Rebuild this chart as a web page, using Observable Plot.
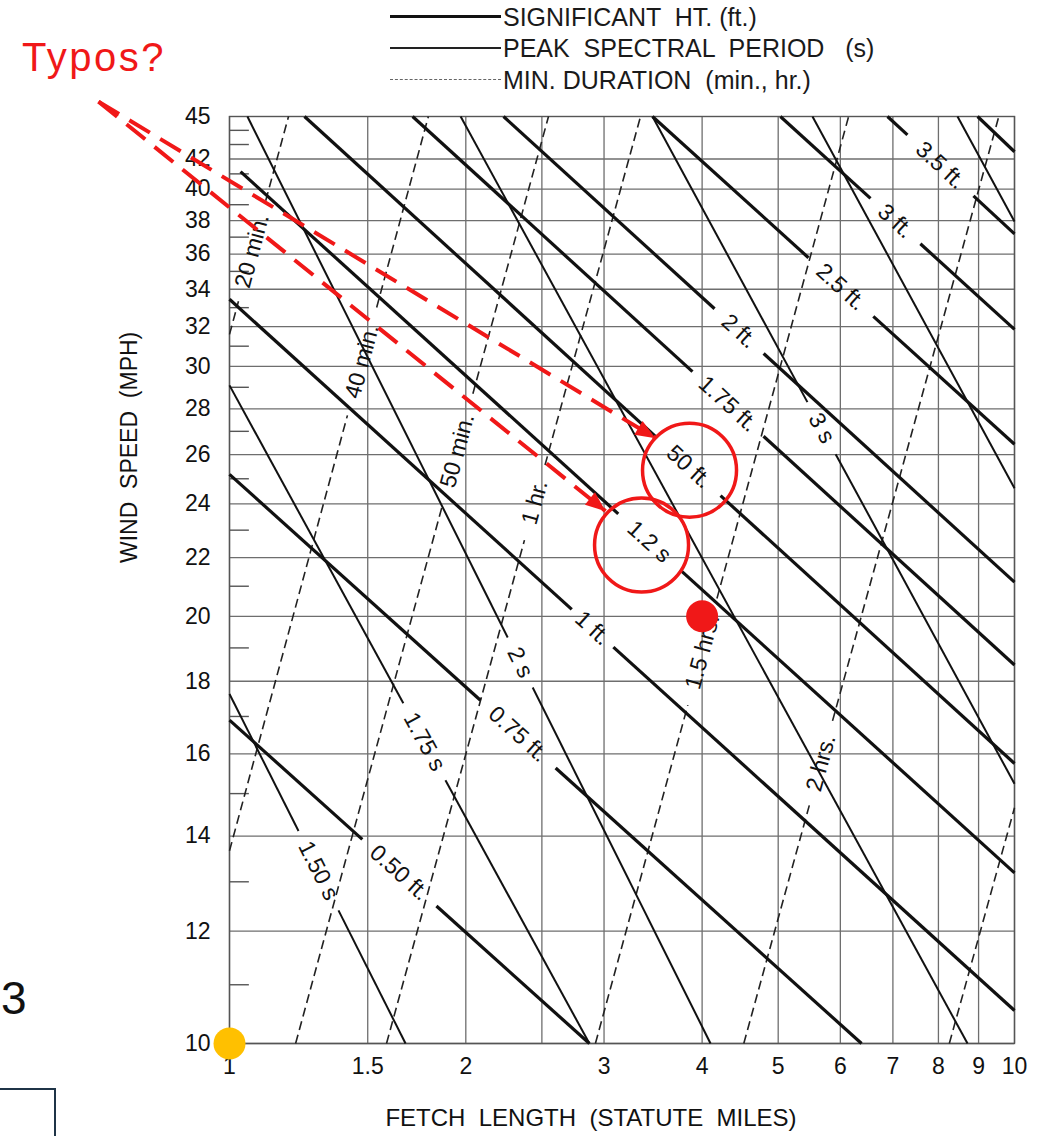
<!DOCTYPE html>
<html>
<head>
<meta charset="utf-8">
<script src="https://cdn.jsdelivr.net/npm/d3@7"></script>
<script src="https://cdn.jsdelivr.net/npm/@observablehq/plot@0.6"></script>
<style>
  html, body { margin: 0; padding: 0; background: #fff; }
  #wrap { position: relative; width: 1045px; height: 1136px; overflow: hidden;
          font-family: "Liberation Sans", Arial, Helvetica, sans-serif; }
  #chart { position: absolute; left: 0; top: 0; }
  .lg { position: absolute; white-space: pre; color: #1a1a1a; font-size: 25px; line-height: 30px; }
  .lgline { position: absolute; left: 390px; width: 111px; height: 0; }
</style>
</head>
<body>
<div id="wrap">
  <div id="chart"></div>
  <div class="lgline" style="top:15px; border-top:3px solid #111;"></div>
  <div class="lg" style="left:503px; top:2px;">SIGNIFICANT  HT. (ft.)</div>
  <div class="lgline" style="top:47px; border-top:2px solid #222;"></div>
  <div class="lg" style="left:503px; top:33px;">PEAK  SPECTRAL  PERIOD   (s)</div>
  <div class="lgline" style="top:79px; border-top:1.5px dashed #666;"></div>
  <div class="lg" style="left:503px; top:65px;">MIN. DURATION  (min., hr.)</div>
  <div style="position:absolute; left:22px; top:33px; font-size:40px; letter-spacing:2.5px; color:#f01818; line-height:48px;">Typos?</div>
  <div style="position:absolute; left:1px; top:970px; font-size:46px; color:#111; line-height:56px;">3</div>
  <div style="position:absolute; left:-2px; top:1088px; width:56px; height:60px; border-top:2px solid #1f3447; border-right:2px solid #1f3447;"></div>
</div>
<script>
// ---------- data ----------
const fetchGrid = [1, 1.5, 2, 2.5, 3, 4, 5, 6, 7, 8, 9, 10];
const fetchTickLabels = [1, 1.5, 2, 3, 4, 5, 6, 7, 8, 9, 10];
const windGrid = [10, 12, 14, 16, 18, 20, 22, 24, 26, 28, 30, 32, 34, 36, 38, 40, 42];
const windMinor = [11, 13, 15, 17, 19, 21, 23, 25, 27, 29, 31, 33, 35, 37, 39, 41, 43, 44];
const windTickLabels = [10, 12, 14, 16, 18, 20, 22, 24, 26, 28, 30, 32, 34, 36, 38, 40, 42, 45];

// significant height lines: [fetch, wind] endpoints, label gap as fraction along the line
const heightLines = [
  {label: "0.50 ft.", from: [1, 16.90],     to: [2.874, 10],  gap: [0.369, 0.575]},
  {label: "0.75 ft.", from: [1, 25.18],     to: [6.385, 10],  gap: [0.397, 0.516]},
  {label: "1 ft.",    from: [1, 33.45],     to: [10, 10.55],  gap: [0.436, 0.489]},
  {label: "1.2 s",    from: [1.033, 41.15], to: [10, 13.19],  gap: [0.488, 0.568]},
  {label: "50 ft.",   from: [1.246, 45],    to: [10, 15.75],  gap: [0.497, 0.586]},
  {label: "1.75 ft.", from: [1.711, 45],    to: [10, 18.48],  gap: [0.465, 0.583]},
  {label: "2 ft.",    from: [2.234, 45],    to: [10, 21.14],  gap: [0.413, 0.509]},
  {label: "2.5 ft.",  from: [3.458, 45],    to: [10, 26.44],  gap: [0.431, 0.610]},
  {label: "3 ft.",    from: [5.032, 45],    to: [10, 31.86],  gap: [0.385, 0.598]},
  {label: "3.5 ft.",  from: [6.890, 45],    to: [10, 37.20],  gap: [0.157, 0.677]},
  {label: "",         from: [8.974, 45],    to: [10, 42.50],  gap: null}
];

// peak spectral period lines
const periodLines = [
  {label: "1.50 s", from: [1, 17.63],     to: [1.676, 10], gap: [0.392, 0.619]},
  {label: "1.75 s", from: [1, 29.09],     to: [2.874, 10], gap: [0.483, 0.600]},
  {label: "2 s",    from: [1.054, 45],    to: [4.100, 10], gap: [0.562, 0.616]},
  {label: "",       from: [1.970, 45],    to: [8.713, 10], gap: null},
  {label: "3 s",    from: [3.458, 45],    to: [10, 15.24], gap: [0.428, 0.506]},
  {label: "",       from: [5.529, 45],    to: [10, 24.62], gap: null},
  {label: "",       from: [8.461, 45],    to: [10, 37.95], gap: null}
];

// minimum duration lines (drawn from lower end to upper end)
const durationLines = [
  {label: "20 min.",  from: [1, 31.60],   to: [1.189, 45], gap: [0.152, 0.613]},
  {label: "40 min.",  from: [1, 13.67],   to: [1.792, 45], gap: [0.593, 0.740]},
  {label: "50 min.",  from: [1.214, 10],  to: [2.549, 45], gap: [0.578, 0.701]},
  {label: "1 hr.",    from: [1.585, 10],  to: [3.339, 45], gap: [0.543, 0.624]},
  {label: "1.5 hrs.", from: [2.925, 10],  to: [6.147, 45], gap: [0.365, 0.480]},
  {label: "2 hrs.",   from: [4.52, 10],   to: [9.55, 45],  gap: [0.257, 0.348]},
  {label: "",         from: [8.26, 10],   to: [10, 14.66], gap: null}
];

// red / orange annotations
const typoArrows = [
  {from: [0.681, 46.1], to: [3.489, 26.70]},
  {from: [0.681, 46.1], to: [3.013, 23.72]}
];
const typoCircles = [{x: 3.855, y: 25.35}, {x: 3.349, y: 22.45}];
const markedPoints = [{x: 4, y: 20, color: "#f01818"}, {x: 1, y: 10, color: "#ffc000"}];

// ---------- layout ----------
const W = 1045, H = 1136;
const mL = 229, mR = 31, mT = 116, mB = 93;
const xs = d3.scaleLog([1, 10], [mL, W - mR]);
const ys = d3.scaleLog([10, 45], [H - mB, mT]);
const RED = "#f01818";

function build(defs) {
  const segs = [], labels = [];
  for (const d of defs) {
    const [xa, ya] = d.from, [xb, yb] = d.to;
    const at = t => [xa * Math.pow(xb / xa, t), ya * Math.pow(yb / ya, t)];
    const pieces = d.gap ? [[0, d.gap[0]], [d.gap[1], 1]] : [[0, 1]];
    for (const [s, e] of pieces) {
      const p = at(s), q = at(e);
      segs.push({x1: p[0], y1: p[1], x2: q[0], y2: q[1]});
    }
    if (d.gap && d.label) {
      const m = at((d.gap[0] + d.gap[1]) / 2);
      const ang = Math.atan2(ys(yb) - ys(ya), xs(xb) - xs(xa)) * 180 / Math.PI;
      labels.push({x: m[0], y: m[1], text: d.label, rotate: ang});
    }
  }
  return {segs, labels};
}
const hL = build(heightLines), pL = build(periodLines), dL = build(durationLines);
const allLabels = [...hL.labels, ...pL.labels, ...dL.labels];

const arrowRows = typoArrows.map(a => ({x1: a.from[0], y1: a.from[1], x2: a.to[0], y2: a.to[1]}));

const plot = Plot.plot({
  width: W, height: H,
  marginLeft: mL, marginRight: mR, marginTop: mT, marginBottom: mB,
  x: {type: "log", domain: [1, 10], axis: null},
  y: {type: "log", domain: [10, 45], axis: null},
  style: {fontFamily: "'Liberation Sans', Arial, Helvetica, sans-serif", fontSize: "22px", background: "white", overflow: "visible"},
  marks: [
    Plot.ruleX(fetchGrid, {stroke: "#6e6e6e", strokeWidth: 1.3}),
    Plot.ruleY(windGrid, {stroke: "#6e6e6e", strokeWidth: 1.3}),
    Plot.ruleY(windMinor, {x1: 1, x2: 1.06, stroke: "#555", strokeWidth: 1.4}),
    Plot.frame({stroke: "#555", strokeWidth: 1.4}),
    Plot.text(windTickLabels, {y: d => d, frameAnchor: "left", dx: -19, textAnchor: "end", text: d => String(d), fontSize: 23, fill: "#111"}),
    Plot.text(fetchTickLabels, {x: d => d, frameAnchor: "bottom", dy: 30, text: d => String(d), fontSize: 23, fill: "#111"}),
    Plot.text(["WIND\u00a0 SPEED\u00a0 (MPH)"], {frameAnchor: "left", dx: -100, dy: -17, rotate: -90, fontSize: 23, fill: "#111"}),
    Plot.text(["FETCH\u00a0 LENGTH\u00a0 (STATUTE\u00a0 MILES)"], {frameAnchor: "bottom", dx: -31, dy: 82, fontSize: 24, fill: "#111"}),
    Plot.link(dL.segs, {x1: "x1", y1: "y1", x2: "x2", y2: "y2", stroke: "#222", strokeWidth: 1.6, strokeDasharray: "9,5"}),
    Plot.link(pL.segs, {x1: "x1", y1: "y1", x2: "x2", y2: "y2", stroke: "#111", strokeWidth: 2}),
    Plot.link(hL.segs, {x1: "x1", y1: "y1", x2: "x2", y2: "y2", stroke: "#111", strokeWidth: 3.2}),
    Plot.text(allLabels, {x: "x", y: "y", text: "text", rotate: "rotate", fontSize: 23, fill: "#111"}),
    Plot.link(arrowRows, {x1: "x1", y1: "y1", x2: "x2", y2: "y2", stroke: RED, strokeWidth: 4, strokeDasharray: "24,12", markerEnd: "arrow"}),
    Plot.dot(typoCircles, {x: "x", y: "y", r: 47, fill: "none", stroke: RED, strokeWidth: 3.5}),
    Plot.dot(markedPoints, {x: "x", y: "y", r: 16, fill: "color", stroke: "none"})
  ]
});

// arrowheads: make Plot's arrow markers filled triangles
plot.querySelectorAll("marker").forEach(m => {
  m.setAttribute("viewBox", "-9 -5 10 10");
  m.setAttribute("overflow", "visible");
  m.setAttribute("fill", RED);
  m.setAttribute("stroke", "none");
  const p = m.querySelector("path");
  if (p) { p.setAttribute("d", "M-7.5,-3L0,0L-7.5,3Z"); p.setAttribute("stroke", "none"); p.setAttribute("fill", RED); }
});

document.getElementById("chart").appendChild(plot);
</script>
</body>
</html>
